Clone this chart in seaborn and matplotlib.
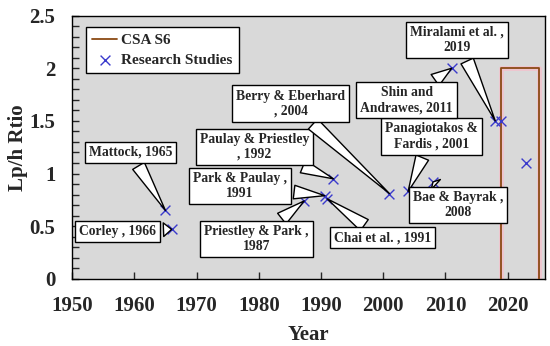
import matplotlib
matplotlib.use("Agg")
import matplotlib.pyplot as plt
import seaborn as sns
from matplotlib.ticker import MultipleLocator

# research studies (year, Lp/h ratio)
study_years = [1965, 1966, 1987.3, 1990.6, 1991, 1992, 2001, 2004, 2008, 2011, 2018, 2019, 2023]
study_ratio = [0.65, 0.47, 0.74, 0.79, 0.76, 0.95, 0.81, 0.83, 0.92, 2.0, 1.5, 1.5, 1.1]

# CSA S6 limit outline
csa_years = [2019, 2019, 2025, 2025]
csa_ratio = [-0.1, 2.0, 2.0, -0.1]

# callout labels: (text, index of study point, offset in pixels)
callouts = [
    ("Mattock, 1965", 0, (-35, 58)),
    ("Corley , 1966", 1, (-54, -2)),
    ("Priestley & Park ,\n1987", 2, (-48, -38)),
    ("Park & Paulay ,\n1991", 3, (-85, 10)),
    ("Chai et al. , 1991", 4, (55, -39)),
    ("Paulay & Priestley\n, 1992", 5, (-79, 32)),
    ("Berry & Eberhard\n, 2004", 6, (-99, 90)),
    ("Panagiotakos &\nFardis , 2001", 7, (23, 55)),
    ("Bae & Bayrak ,\n2008", 8, (25, -23)),
    ("Shin and\nAndrawes, 2011", 9, (-45, -32)),
    ("Miralami et al. ,\n2019", 10, (-38, 81)),
]

sns.set_style("ticks")
plt.rcParams["font.family"] = ["Liberation Serif", "DejaVu Serif"]
plt.rcParams["font.weight"] = "bold"

fig = plt.figure(figsize=(5.5, 3.46), dpi=100)
ax = fig.add_axes([0.131, 0.194, 0.860, 0.761])
ax.set_facecolor("#d9d9d9")

# pink halo under the CSA line
ax.plot(csa_years, csa_ratio, color="#f4c0cc", lw=3.5, alpha=0.8, zorder=2)
sns.lineplot(x=csa_years, y=csa_ratio, sort=False, estimator=None,
             color="#8b4a14", lw=1.3, ax=ax, label="CSA S6", zorder=3)
sns.scatterplot(x=study_years, y=study_ratio, marker="x", color="#3a3acc",
                s=50, linewidth=1.0, ax=ax, label="Research Studies", zorder=4)

for text, i, off in callouts:
    ax.annotate(text, xy=(study_years[i], study_ratio[i]), xytext=off,
                textcoords="offset pixels", ha="center", va="center",
                fontsize=9.8, fontweight="bold", multialignment="center",
                bbox=dict(boxstyle="square,pad=0.3", fc="white", ec="black", lw=1),
                arrowprops=dict(arrowstyle="wedge,tail_width=1.0,shrink_factor=0.5",
                                fc="white", ec="black", lw=1, shrinkB=0),
                zorder=5)

ax.set_xlim(1950, 2026)
ax.set_ylim(0, 2.5)
ax.xaxis.set_major_locator(MultipleLocator(10))
ax.yaxis.set_minor_locator(MultipleLocator(0.1))
ax.tick_params(axis="both", direction="in", labelsize=15, length=5, width=1, pad=12)
ax.tick_params(axis="y", which="minor", direction="in", length=5, width=1)
ax.set_yticks([0, 0.5, 1, 1.5, 2, 2.5])
ax.set_yticklabels(["0", "0.5", "1", "1.5", "2", "2.5"])
for lab in ax.get_xticklabels() + ax.get_yticklabels():
    lab.set_fontweight("bold")
for sp in ax.spines.values():
    sp.set_visible(True)
    sp.set_color("black")
    sp.set_linewidth(1)

ax.set_xlabel("Year", fontsize=15, fontweight="bold", labelpad=7)
ax.set_ylabel("Lp/h Rtio", fontsize=15, fontweight="bold", labelpad=1)

leg = ax.legend(loc="upper left", fontsize=11, frameon=True, fancybox=False,
                edgecolor="black", framealpha=1, handlelength=1.6,
                handletextpad=0.3, borderpad=0.4, labelspacing=0.4,
                borderaxespad=0, bbox_to_anchor=(0.03, 0.955))
leg.get_frame().set_linewidth(1)
for t in leg.get_texts():
    t.set_fontweight("bold")

fig.savefig("out.png", dpi=100)
